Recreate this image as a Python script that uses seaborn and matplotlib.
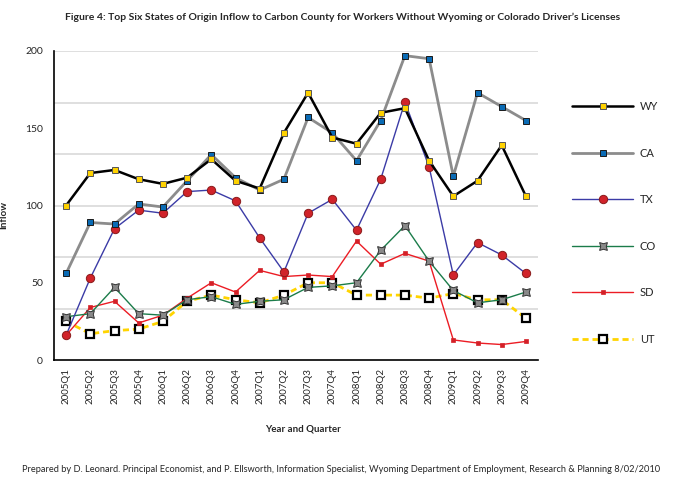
import numpy as np
import pandas as pd
import matplotlib
matplotlib.use("Agg")
import matplotlib.pyplot as plt
import seaborn as sns
from matplotlib.ticker import FixedLocator

quarters = ["2005Q1", "2005Q2", "2005Q3", "2005Q4",
            "2006Q1", "2006Q2", "2006Q3", "2006Q4",
            "2007Q1", "2007Q2", "2007Q3", "2007Q4",
            "2008Q1", "2008Q2", "2008Q3", "2008Q4",
            "2009Q1", "2009Q2", "2009Q3", "2009Q4"]

wy = [100, 121, 123, 117, 114, 118, 130, 116, 111, 147, 173, 144, 140, 160, 163, 129, 106, 116, 139, 106]
ca = [56, 89, 88, 101, 99, 116, 133, 118, 110, 117, 157, 147, 129, 155, 197, 195, 119, 173, 164, 155]
tx = [16, 53, 85, 97, 95, 109, 110, 103, 79, 57, 95, 104, 84, 117, 167, 125, 55, 76, 68, 56]
co = [28, 30, 47, 30, 29, 39, 41, 36, 38, 39, 47, 48, 50, 71, 87, 64, 45, 37, 39, 44]
sd = [16, 34, 38, 24, 29, 40, 50, 44, 58, 54, 55, 54, 77, 62, 69, 64, 13, 11, 10, 12]
ut = [25, 17, 19, 20, 25, 38, 42, 39, 37, 42, 50, 50, 42, 42, 42, 40, 43, 39, 39, 27]

sns.set_style("white")
plt.rcParams["font.family"] = ["Lato", "DejaVu Sans"]

fig = plt.figure(figsize=(6.76, 4.87), dpi=100)
ax = fig.add_axes([54 / 676, 1 - 360 / 487, 484 / 676, 309 / 487])

x = np.arange(len(quarters))

# drawn bottom to top: UT first, WY last
sns.lineplot(x=x, y=ut, ax=ax, color="#ffd400", lw=2, linestyle=(0, (2.2, 1.4)),
             marker="s", ms=5.2, mfc="white", mec="black", mew=1.6, label="UT", sort=False)
sns.lineplot(x=x, y=sd, ax=ax, color="#ec1c24", lw=1, marker="s", ms=3,
             mfc="#d42027", mec="#d42027", mew=0.5, label="SD", sort=False)
sns.lineplot(x=x, y=co, ax=ax, color="#1b7c4a", lw=1, marker=(4, 1, 45), ms=8,
             mfc="#8a8a8a", mec="#333333", mew=0.7, label="CO", sort=False)
sns.lineplot(x=x, y=tx, ax=ax, color="#3b3ba6", lw=1, marker="o", ms=6,
             mfc="#d1232a", mec="#8a1a1a", mew=0.7, label="TX", sort=False)
sns.lineplot(x=x, y=ca, ax=ax, color="#8c8c8c", lw=2, marker="s", ms=5,
             mfc="#0a6bb5", mec="#1a1a1a", mew=0.7, label="CA", sort=False)
sns.lineplot(x=x, y=wy, ax=ax, color="black", lw=1.8, marker="s", ms=5,
             mfc="#ffd200", mec="#555555", mew=0.7, label="WY", sort=False)

ax.set_xlim(-0.5, len(quarters) - 0.5)
ax.set_ylim(0, 200)

ax.set_xticks(x)
ax.set_xticklabels(quarters, rotation=90, fontsize=7)
ax.xaxis.set_minor_locator(FixedLocator(np.arange(0.5, len(quarters), 1)))
ax.tick_params(axis="x", which="major", length=0, pad=6)
ax.tick_params(axis="x", which="minor", direction="in", length=8, width=1, color="black")

ax.set_yticks([0, 50, 100, 150, 200])
ax.yaxis.set_minor_locator(FixedLocator(np.arange(1, 7) * 200 / 6))
ax.yaxis.remove_overlapping_locs = False
ax.tick_params(axis="y", which="major", direction="in", length=12, width=1.2,
               color="black", labelsize=7.5, pad=8)
ax.tick_params(axis="y", which="minor", length=0)
ax.grid(False)
ax.grid(which="minor", axis="y", color="#dcdcdc", lw=1.3)
ax.set_axisbelow(True)

for s in ["top", "right"]:
    ax.spines[s].set_visible(False)
for s in ["left", "bottom"]:
    ax.spines[s].set_color("black")
    ax.spines[s].set_linewidth(1.2)

ax.set_ylabel("Inflow", fontsize=7, fontweight="bold")
ax.yaxis.set_label_coords(-0.095, 0.47)
ax.set_xlabel("Year and Quarter", fontsize=7, fontweight="bold")
ax.xaxis.set_label_coords(0.514, -0.21)

# legend in WY..UT order
handles, labels = ax.get_legend_handles_labels()
order = ["WY", "CA", "TX", "CO", "SD", "UT"]
hmap = dict(zip(labels, handles))
ax.legend([hmap[k] for k in order], order, loc="center left",
          bbox_to_anchor=(572 / 676, 1 - 223 / 487), bbox_transform=fig.transFigure,
          frameon=False, fontsize=8, handlelength=5.5, handletextpad=0.6,
          labelspacing=3.2, borderpad=0, borderaxespad=0, numpoints=1)

fig.text(0.507, 1 - 17 / 487,
         "Figure 4: Top Six States of Origin Inflow to Carbon County for Workers Without Wyoming or Colorado Driver\u2019s Licenses",
         ha="center", va="center", fontsize=7.5, fontweight="bold")
fig.text(0.505, 1 - 470 / 487,
         "Prepared by D. Leonard. Principal Economist, and P. Ellsworth, Information Specialist, "
         "Wyoming Department of Employment, Research & Planning 8/02/2010",
         ha="center", va="center", fontsize=6.7)

fig.savefig("out.png", dpi=100)
